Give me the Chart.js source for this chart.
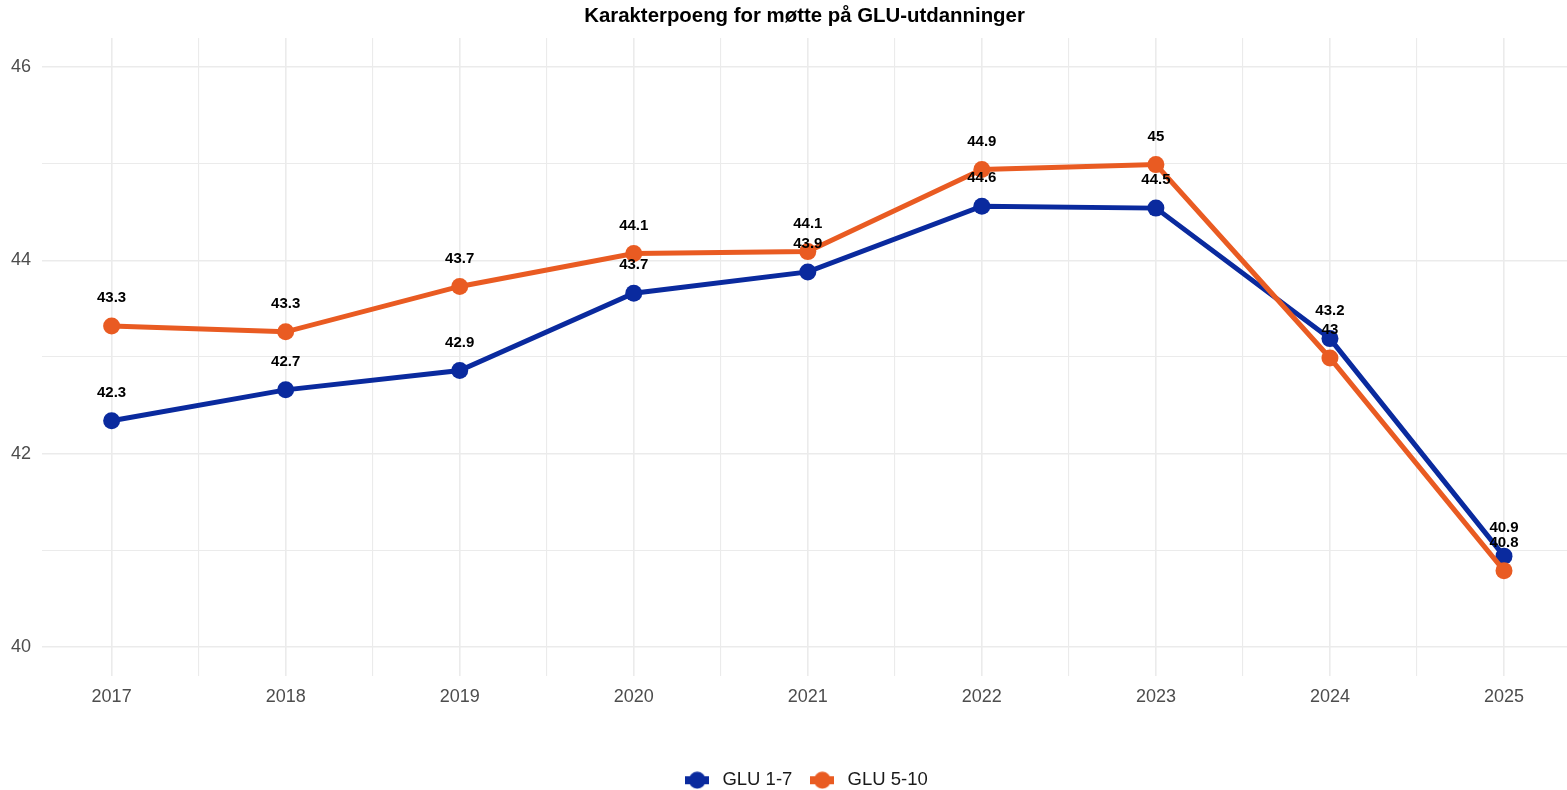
<!DOCTYPE html>
<html>
<head>
<meta charset="utf-8">
<script src="https://cdn.jsdelivr.net/npm/chart.js@4/dist/chart.umd.min.js"></script>
<style>
  html, body { margin: 0; padding: 0; background: #ffffff; }
  #wrap { width: 1567px; height: 790px; position: relative; }
</style>
</head>
<body>
<div id="wrap"><canvas id="c" width="1567" height="790"></canvas></div>
<script>
const years = [2017, 2018, 2019, 2020, 2021, 2022, 2023, 2024, 2025];
const glu17 = [42.34, 42.66, 42.86, 43.66, 43.88, 44.56, 44.54, 43.19, 40.94];
const glu510 = [43.32, 43.26, 43.73, 44.07, 44.09, 44.94, 44.99, 42.99, 40.79];
const seriesNames = ['GLU 1-7', 'GLU 5-10'];
const seriesColors = ['#0A2A9E', '#E95B22'];
const yTicks = [40, 41, 42, 43, 44, 45, 46];
const xTicks = [2017, 2017.5, 2018, 2018.5, 2019, 2019.5, 2020, 2020.5, 2021, 2021.5, 2022, 2022.5, 2023, 2023.5, 2024, 2024.5, 2025];
const titleText = 'Karakterpoeng for møtte på GLU-utdanninger';

const FONT = '"Liberation Sans", Arial, sans-serif';

function keyImage(color) {
  const c = document.createElement('canvas');
  c.width = 24; c.height = 18;
  const g = c.getContext('2d');
  g.fillStyle = color;
  g.fillRect(0, 5, 24, 8);
  g.beginPath();
  g.arc(12, 9, 8.5, 0, Math.PI * 2);
  g.fill();
  return c;
}

function toPoints(vals) { return years.map((y, i) => ({ x: y, y: vals[i] })); }

const labelPlugin = {
  id: 'valueLabels',
  beforeLayout(chart) {
    const lg = chart.legend;
    if (lg && !lg._patched) {
      const orig = lg.fit;
      lg.fit = function () { orig.call(this); this.height = 33; };
      lg._patched = true;
    }
  },
  afterDatasetsDraw(chart) {
    const ctx = chart.ctx;
    ctx.save();
    ctx.font = 'bold 15px ' + FONT;
    ctx.fillStyle = '#000000';
    ctx.textAlign = 'center';
    ctx.textBaseline = 'middle';
    chart.data.datasets.forEach((d, di) => {
      const meta = chart.getDatasetMeta(di);
      meta.data.forEach((pt, i) => {
        const v = Math.round(d.data[i].y * 10) / 10;
        ctx.fillText(String(v), pt.x, pt.y - 28);
      });
    });
    ctx.restore();
  }
};

const gridColor = (c) => '#ebebeb';

function ds(i, vals, order) {
  return {
    label: seriesNames[i],
    data: toPoints(vals),
    borderColor: seriesColors[i],
    backgroundColor: seriesColors[i],
    pointBackgroundColor: seriesColors[i],
    pointBorderColor: seriesColors[i],
    borderWidth: 5,
    pointRadius: 8.5,
    pointBorderWidth: 0,
    pointHoverRadius: 8.5,
    tension: 0,
    order: order
  };
}

new Chart(document.getElementById('c'), {
  type: 'line',
  data: { datasets: [ ds(0, glu17, 1), ds(1, glu510, 0) ] },
  options: {
    responsive: false,
    animation: false,
    devicePixelRatio: 1,
    layout: { autoPadding: false, padding: { left: 0, right: 0, top: 0, bottom: 0 } },
    plugins: {
      title: {
        display: true,
        fullSize: false,
        text: titleText,
        color: '#000000',
        font: { family: FONT, size: 20.4, weight: 'bold', lineHeight: 1.2 },
        padding: { top: 4, bottom: 9.5 }
      },
      legend: {
        position: 'bottom',
        fullSize: false,
        labels: {
          color: '#1a1a1a',
          font: { family: FONT, size: 18.5 },
          usePointStyle: true,
          pointStyleWidth: 32,
          padding: 14,
          generateLabels(chart) {
            return chart.data.datasets.map((d, i) => ({
              text: d.label,
              fillStyle: d.borderColor,
              strokeStyle: d.borderColor,
              lineWidth: 0,
              pointStyle: keyImage(d.borderColor),
              hidden: false,
              datasetIndex: i,
              fontColor: '#1a1a1a'
            }));
          }
        }
      },
      tooltip: { enabled: false }
    },
    scales: {
      x: {
        type: 'linear',
        min: 2016.6,
        max: 2025.362,
        afterBuildTicks(scale) { scale.ticks = xTicks.map(v => ({ value: v })); },
        afterFit(scale) { scale.height = 81; },
        ticks: {
          autoSkip: false,
          maxRotation: 0,
          color: '#4d4d4d',
          font: { family: FONT, size: 18 },
          padding: 10,
          callback: (v) => Number.isInteger(v) ? String(v) : ''
        },
        grid: {
          drawTicks: false,
          color: gridColor,
          lineWidth: (c) => (c.tick && Number.isInteger(c.tick.value)) ? 1.6 : 1.1
        },
        border: { display: false }
      },
      y: {
        type: 'linear',
        min: 39.7,
        max: 46.3,
        afterBuildTicks(scale) { scale.ticks = yTicks.map(v => ({ value: v })); },
        afterFit(scale) { scale.width = 42; },
        ticks: {
          color: '#4d4d4d',
          font: { family: FONT, size: 18 },
          padding: 11,
          callback: (v) => (v % 2 === 0) ? String(v) : ''
        },
        grid: {
          drawTicks: false,
          color: gridColor,
          lineWidth: (c) => (c.tick && c.tick.value % 2 === 0) ? 1.6 : 1.1
        },
        border: { display: false }
      }
    }
  },
  plugins: [labelPlugin]
});
</script>
</body>
</html>
